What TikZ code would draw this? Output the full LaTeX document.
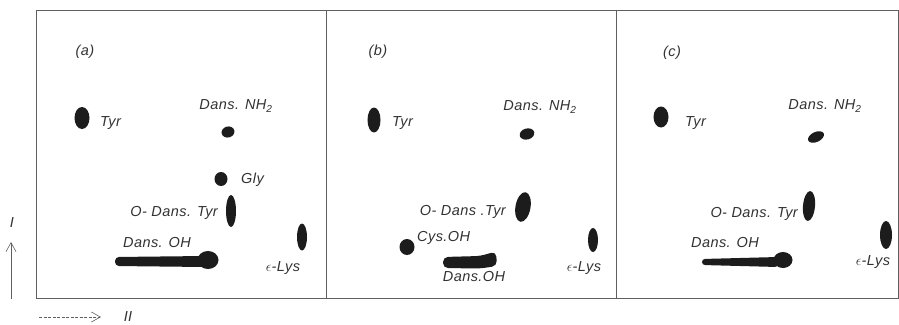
\documentclass[tikz,border=0pt]{standalone}
\usepackage{fontspec}
\setmainfont{Liberation Sans}[LetterSpace=3]
\usepackage{xcolor}
\definecolor{tinta}{RGB}{28,28,28}
\definecolor{marco}{RGB}{95,95,95}
\definecolor{letra}{RGB}{50,50,50}
\usepackage{tikz}
\usetikzlibrary{shapes.geometric,arrows.meta}
\tikzstyle{spot}=[ellipse, fill=tinta, inner sep=0pt,
                  outer sep=0pt]
\tikzstyle{etiq}=[text=letra, inner sep=0pt,
                  font=\itshape\fontsize{14.5}{16}\selectfont]
\tikzstyle{axis}=[marco, line width=0.6pt,
                  >={Straight Barb[length=9pt,width=10pt]}]

\begin{document}
\begin{tikzpicture}[x=1pt,y=-1pt]
    \useasboundingbox (0,0) rectangle (899,324);

    % frame of the three plates
    \draw [marco, line width=0.7pt] (36,10) rectangle (898.5,298);
    \draw [marco, line width=0.7pt] (326,10) -- (326,298);
    \draw [marco, line width=0.7pt] (616,10) -- (616,298);

    % directions of the two runs
    \coordinate (yPie) at (11,299);
    \coordinate (yPunta) at (11,242);
    \coordinate (xPie) at (39,317);
    \coordinate (xPunta) at (101,317);
    \draw [axis,->] (yPie) -- (yPunta);
    \draw [axis,->,dash pattern=on 3pt off 1.5pt] (xPie) -- (xPunta);
    \node (yEtiq) [etiq] at (12,223) {I};
    \node (xEtiq) [etiq] at (128,317) {II};

    \begin{scope}
        \node (aTag) [etiq] at (85,52) {(a)};
        \node (aTyr) [spot, minimum width=15pt, minimum height=22pt] at (82,118) {};
        \node (aTyrL) [etiq, anchor=west] at (100,123) {Tyr};
        \node (aNH) [spot, minimum width=13pt, minimum height=11pt, rotate=15] at (228,132) {};
        \node (aNHL) [etiq] at (236,106) {Dans. NH\textsubscript{2}};
        \node (aGly) [spot, minimum width=13pt, minimum height=14pt] at (221,179) {};
        \node (aGlyL) [etiq, anchor=west] at (241,180) {Gly};
        \node (aOT) [spot, minimum width=10pt, minimum height=32pt] at (231,211) {};
        \node (aOTL) [etiq, anchor=east] at (218,213) {O- Dans. Tyr};
        \node (aLys) [spot, minimum width=10pt, minimum height=27pt] at (302,237) {};
        \node (aLysL) [etiq] at (283,268) {$\epsilon$-Lys};
        \node (aOH) [spot, minimum width=21pt, minimum height=18pt] at (208,260) {};
        \fill [tinta, rounded corners=4pt] (115,257) -- (205,256) -- (205,267) -- (115,266) -- cycle;
        \node (aOHL) [etiq] at (157,243) {Dans. OH};
    \end{scope}

    \begin{scope}[xshift=290pt]
        \node (bTag) [etiq] at (88,52) {(b)};
        \node (bTyr) [spot, minimum width=13pt, minimum height=25pt] at (84,120) {};
        \node (bTyrL) [etiq, anchor=west] at (102,123) {Tyr};
        \node (bNH) [spot, minimum width=15pt, minimum height=11pt, rotate=15] at (237,134) {};
        \node (bNHL) [etiq] at (250,107) {Dans. NH\textsubscript{2}};
        \node (bOT) [spot, minimum width=15pt, minimum height=30pt, rotate=-10] at (233,207) {};
        \node (bOTL) [etiq, anchor=east] at (216,212) {O- Dans .Tyr};
        \node (bCys) [spot, minimum width=15pt, minimum height=16pt] at (117,247) {};
        \node (bCysL) [etiq, anchor=west] at (127,238) {Cys.OH};
        \node (bLys) [spot, minimum width=10pt, minimum height=24pt] at (303,240) {};
        \node (bLysL) [etiq] at (294,268) {$\epsilon$-Lys};
        \fill [tinta, rounded corners=5pt] (153,257) -- (190,256) -- (206,251.5) -- (207,266) -- (190,268.5) -- (153,268) -- cycle;
        \node (bOHL) [etiq] at (184,277) {Dans.OH};
    \end{scope}

    \begin{scope}[xshift=580pt]
        \node (cTag) [etiq] at (92,53) {(c)};
        \node (cTyr) [spot, minimum width=15pt, minimum height=21pt] at (81,117) {};
        \node (cTyrL) [etiq, anchor=west] at (105,123) {Tyr};
        \node (cNH) [spot, minimum width=17pt, minimum height=10pt, rotate=25] at (236,137) {};
        \node (cNHL) [etiq] at (245,106) {Dans. NH\textsubscript{2}};
        \node (cOT) [spot, minimum width=12pt, minimum height=30pt, rotate=-5] at (229,206) {};
        \node (cOTL) [etiq, anchor=east] at (218,214) {O- Dans. Tyr};
        \node (cLys) [spot, minimum width=12pt, minimum height=28pt] at (306,235) {};
        \node (cLysL) [etiq] at (293,262) {$\epsilon$-Lys};
        \node (cOH) [spot, minimum width=19pt, minimum height=16pt] at (203,260) {};
        \fill [tinta, rounded corners=3pt] (122,259) -- (198,257) -- (198,267) -- (122,265) -- cycle;
        \node (cOHL) [etiq] at (145,243) {Dans. OH};
    \end{scope}

\end{tikzpicture}
\end{document}
